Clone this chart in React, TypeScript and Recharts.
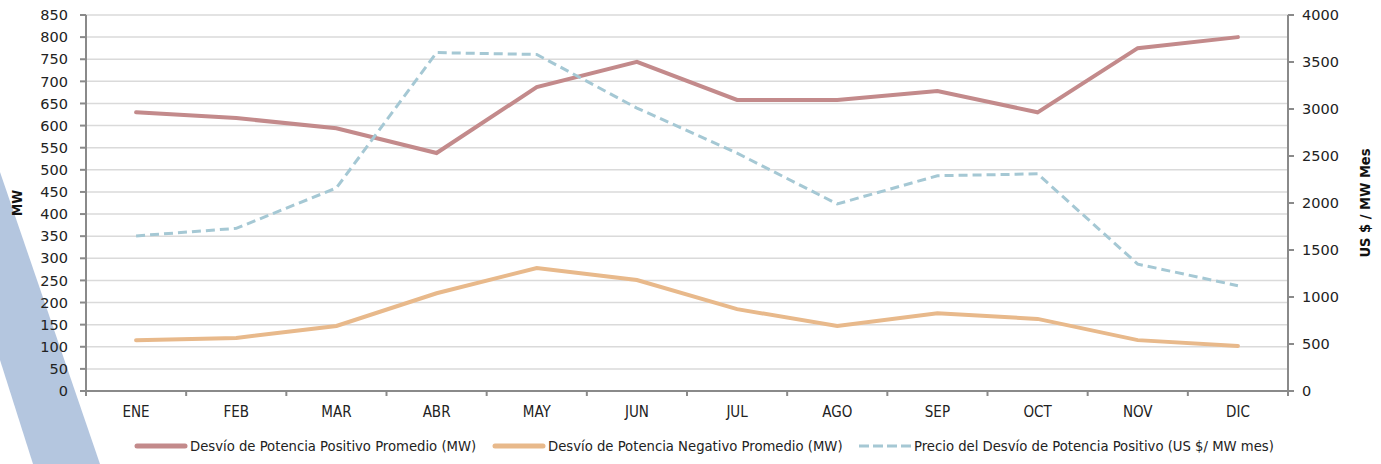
import { LineChart, Line, XAxis, YAxis, CartesianGrid, Label } from 'recharts';

const months = ['ENE', 'FEB', 'MAR', 'ABR', 'MAY', 'JUN', 'JUL', 'AGO', 'SEP', 'OCT', 'NOV', 'DIC'];
const positivo = [630, 617, 594, 538, 687, 744, 658, 658, 678, 630, 775, 800];
const negativo = [115, 120, 147, 221, 278, 251, 185, 147, 176, 163, 115, 102];
const precio = [1650, 1730, 2160, 3600, 3580, 3010, 2530, 1990, 2290, 2310, 1350, 1120];
const leftTicks = [0, 50, 100, 150, 200, 250, 300, 350, 400, 450, 500, 550, 600, 650, 700, 750, 800, 850];
const rightTicks = [0, 500, 1000, 1500, 2000, 2500, 3000, 3500, 4000];

const seriesNames = [
  'Desvío de Potencia Positivo Promedio (MW)',
  'Desvío de Potencia Negativo Promedio (MW)',
  'Precio del Desvío de Potencia Positivo (US $/ MW mes)',
];

const data = months.map((m, i) => ({ i, m, pos: positivo[i], neg: negativo[i], precio: precio[i] }));
// ticks at category centres (labels) and at boundaries (tick marks)
const xTicks = Array.from({ length: 25 }, (_, k) => k / 2 - 0.5);

const AXIS = '#8a8a8a';
const narrow = '"Liberation Sans Narrow", "DejaVu Sans Condensed", sans-serif';
const tickFont = { fill: '#222', fontSize: 14.5, fontFamily: '"DejaVu Sans", sans-serif' };

function MonthTick(props: any) {
  const { x, y, payload } = props;
  const v = payload.value as number;
  if (Number.isInteger(v)) {
    return (
      <text x={x} y={y + 21} textAnchor="middle" fill="#222" fontSize={15} fontFamily={narrow}>
        {months[v]}
      </text>
    );
  }
  return <line x1={x} x2={x} y1={y - 5} y2={y} stroke={AXIS} strokeWidth={2} />;
}

const legendItems = [
  { name: seriesNames[0], color: '#c38a8b', dash: undefined, left: 133 },
  { name: seriesNames[1], color: '#e8b98b', dash: undefined, left: 491 },
  { name: seriesNames[2], color: '#a5c8d4', dash: '9 5', left: 857 },
];

export default function App() {
  return (
    <div style={{ position: 'absolute', left: 0, top: 0, width: 1381, height: 464, background: '#fff', overflow: 'hidden' }}>
      <svg width={1381} height={464} style={{ position: 'absolute', left: 0, top: 0 }}>
        <polygon points="0,172 100,464 33,464 0,360" fill="#b4c6df" />
      </svg>
      <div style={{ position: 'absolute', left: 0, top: 0 }}>
        <LineChart width={1381} height={464} data={data} margin={{ top: 15, right: 0, left: 0, bottom: 43 }}>
          <CartesianGrid yAxisId="left" vertical={false} stroke="#dadada" strokeWidth={1.5} />
          <XAxis
            dataKey="i"
            type="number"
            domain={[-0.5, 11.5]}
            ticks={xTicks}
            interval={0}
            height={30}
            tickLine={false}
            tickSize={5}
            tickMargin={0}
            axisLine={{ stroke: AXIS, strokeWidth: 2 }}
            tick={<MonthTick />}
          />
          <YAxis
            yAxisId="left"
            width={86}
            domain={[0, 850]}
            ticks={leftTicks}
            interval={0}
            tick={tickFont}
            tickSize={6}
            tickMargin={12}
            axisLine={{ stroke: AXIS, strokeWidth: 2 }}
            tickLine={{ stroke: AXIS, strokeWidth: 2 }}
          >
            <Label
              value="MW"
              angle={-90}
              position="insideLeft"
              offset={17}
              style={{ fontFamily: narrow, fontWeight: 'bold', fontSize: 14, fill: '#111', textAnchor: 'middle' }}
            />
          </YAxis>
          <YAxis
            yAxisId="right"
            orientation="right"
            width={93}
            domain={[0, 4000]}
            ticks={rightTicks}
            interval={0}
            tick={tickFont}
            tickSize={6}
            tickMargin={8}
            axisLine={{ stroke: AXIS, strokeWidth: 2 }}
            tickLine={{ stroke: AXIS, strokeWidth: 2 }}
          >
            <Label
              value="US $ / MW Mes"
              angle={-90}
              position="insideRight"
              offset={16}
              style={{ fontFamily: narrow, fontWeight: 'bold', fontSize: 14.5, fill: '#111', textAnchor: 'middle' }}
            />
          </YAxis>
          <Line
            yAxisId="left"
            dataKey="pos"
            name={seriesNames[0]}
            type="linear"
            stroke="#c38a8b"
            strokeWidth={4}
            strokeLinecap="round"
            dot={false}
            isAnimationActive={false}
          />
          <Line
            yAxisId="left"
            dataKey="neg"
            name={seriesNames[1]}
            type="linear"
            stroke="#e8b98b"
            strokeWidth={4}
            strokeLinecap="round"
            dot={false}
            isAnimationActive={false}
          />
          <Line
            yAxisId="right"
            dataKey="precio"
            name={seriesNames[2]}
            type="linear"
            stroke="#a5c8d4"
            strokeWidth={3}
            strokeDasharray="9 5"
            dot={false}
            isAnimationActive={false}
          />
        </LineChart>
      </div>
      {legendItems.map((it) => (
        <div
          key={it.name}
          style={{
            position: 'absolute',
            left: it.left,
            top: 437,
            display: 'flex',
            alignItems: 'center',
            fontFamily: narrow,
            fontSize: 14.7,
            color: '#222',
            whiteSpace: 'nowrap',
          }}
        >
          <svg width={56} height={10}>
            <line
              x1={it.dash ? 2 : 4}
              x2={it.dash ? 54 : 52}
              y1={5}
              y2={5}
              stroke={it.color}
              strokeWidth={it.dash ? 3 : 5}
              strokeDasharray={it.dash ? '10 4' : undefined}
              strokeLinecap={it.dash ? 'butt' : 'round'}
            />
          </svg>
          <span style={{ marginLeft: 1 }}>{it.name}</span>
        </div>
      ))}
    </div>
  );
}
